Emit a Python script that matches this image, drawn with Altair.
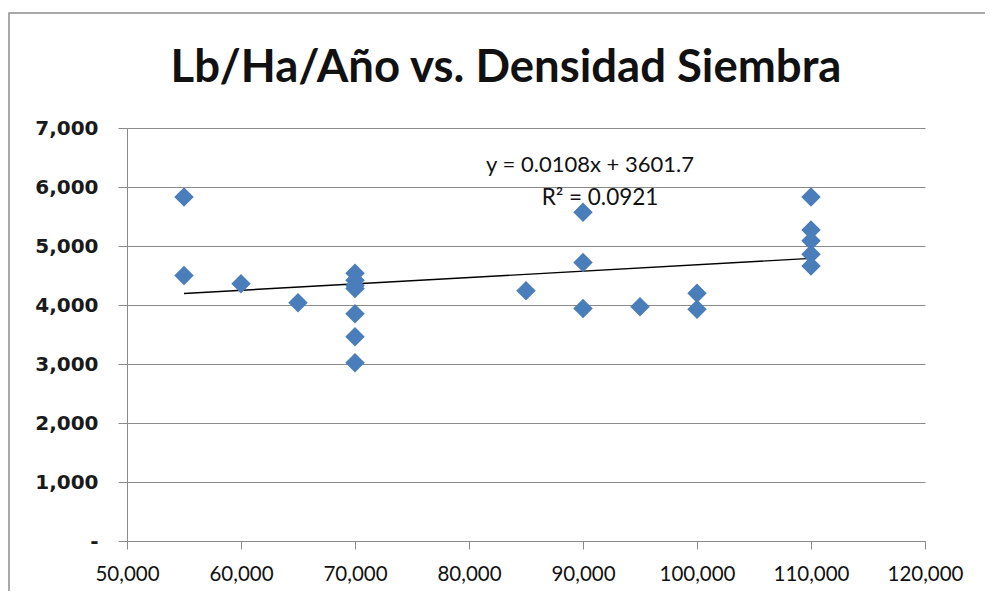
import altair as alt
import pandas as pd

# Data
densidad = [55000, 55000, 60000, 65000,
            70000, 70000, 70000, 70000, 70000, 70000, 70000,
            85000, 90000, 90000, 90000, 95000, 100000, 100000,
            110000, 110000, 110000, 110000, 110000]
rendimiento = [5830, 4500, 4360, 4040,
               4540, 4420, 4330, 4280, 3850, 3460, 3020,
               4240, 5570, 4720, 3940, 3970, 4200, 3930,
               5830, 5270, 5090, 4860, 4660]

# Linear trend as reported in the chart
pendiente = 0.0108
intercepto = 3601.7
ecuacion = "y = 0.0108x + 3601.7"
r2_texto = "R² = 0.0921"
titulo = "Lb/Ha/Año vs. Densidad Siembra"

x_ticks = [50000, 60000, 70000, 80000, 90000, 100000, 110000, 120000]
y_ticks = [0, 1000, 2000, 3000, 4000, 5000, 6000, 7000]

df = pd.DataFrame({"densidad": densidad, "rendimiento": rendimiento})
x_lo, x_hi = min(densidad), max(densidad)
trend = pd.DataFrame({
    "densidad": [x_lo, x_hi],
    "rendimiento": [pendiente * x_lo + intercepto, pendiente * x_hi + intercepto],
})

W, H = 798, 413

x_scale = alt.Scale(domain=[50000, 120000], nice=False, zero=False)
y_scale = alt.Scale(domain=[0, 7000], nice=False)

x_axis = alt.Axis(values=x_ticks, grid=False, title=None,
                  labelExpr="format(datum.value, ',')",
                  domainColor="#8a8a8a", tickColor="#8a8a8a", tickSize=8,
                  labelFont="Lato", labelFontSize=20.5, labelColor="#111",
                  labelPadding=15, labelFlush=False, labelOverlap=False)
y_axis = alt.Axis(values=y_ticks, title=None, grid=True, gridColor="#8a8a8a",
                  gridWidth=1, domainColor="#8a8a8a", tickColor="#8a8a8a",
                  tickSize=9, labelFont="DejaVu Sans", labelFontSize=20,
                  labelFontWeight="bold", labelColor="#1a1a1a", labelPadding=20,
                  labelExpr="datum.value == 0 ? '-\u00a0\u00a0\u00a0' : format(datum.value, ',')")

border = alt.Chart(pd.DataFrame({"a": [0]})).mark_rect(
    fill=None, stroke="#8c8c8c", strokeWidth=1.5
).encode(
    x=alt.value(-118), x2=alt.value(W + 200),
    y=alt.value(-115), y2=alt.value(H + 200),
)

points = alt.Chart(df).mark_point(
    shape="diamond", filled=True, size=380, color="#4a7ebb", opacity=1
).encode(
    x=alt.X("densidad:Q", scale=x_scale, axis=x_axis),
    y=alt.Y("rendimiento:Q", scale=y_scale, axis=y_axis),
)

line = alt.Chart(trend).mark_line(color="#000", strokeWidth=1.4).encode(
    x=alt.X("densidad:Q", scale=x_scale, axis=x_axis),
    y=alt.Y("rendimiento:Q", scale=y_scale, axis=y_axis),
)

title_mark = alt.Chart(pd.DataFrame({"t": [titulo]})).mark_text(
    font="Lato", fontSize=45.5, fontWeight="bold", color="#111",
    align="center", baseline="alphabetic"
).encode(text="t:N", x=alt.value(379), y=alt.value(-46))

eq = alt.Chart(pd.DataFrame({"t": [ecuacion]})).mark_text(
    font="Lato", fontSize=22, color="#111", align="center", baseline="alphabetic"
).encode(text="t:N", x=alt.value(463), y=alt.value(44))

r2 = alt.Chart(pd.DataFrame({"t": [r2_texto]})).mark_text(
    font="Lato", fontSize=22.5, color="#111", align="center", baseline="alphabetic"
).encode(text="t:N", x=alt.value(473), y=alt.value(77))

chart = alt.layer(border, line, points, title_mark, eq, r2).properties(
    width=W, height=H,
    background="white",
    autosize=alt.AutoSizeParams(type="none"),
    padding={"left": 119, "top": 120, "right": 60, "bottom": 50},
).configure_view(stroke=None)

chart.save("out.html", embed_options={"renderer": "svg", "actions": False})
